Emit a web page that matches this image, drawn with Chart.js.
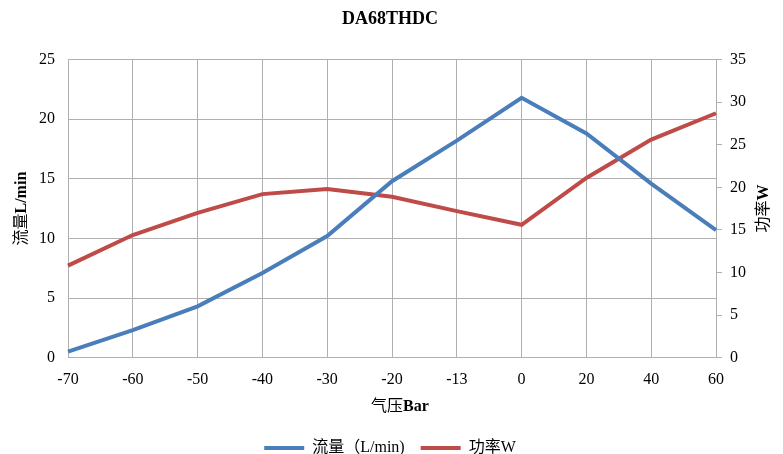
<!DOCTYPE html>
<html>
<head>
<meta charset="utf-8">
<script src="https://cdn.jsdelivr.net/npm/chart.js@4.4.0/dist/chart.umd.min.js"></script>
<style>
  body { margin: 0; background: #fff; }
  #box { width: 783px; height: 454px; }
</style>
</head>
<body>
<div id="box"><canvas id="myChart"></canvas></div>
<script>
const labels = ['-70', '-60', '-50', '-40', '-30', '-20', '-13', '0', '20', '40', '60'];
const flow = [0.5, 2.3, 4.3, 7.1, 10.2, 14.8, 18.2, 21.8, 18.8, 14.6, 10.7];
const power = [10.8, 14.4, 17.0, 19.2, 19.8, 18.9, 17.2, 15.6, 21.1, 25.6, 28.7];

const serif = '"Liberation Serif", "Times New Roman", "Noto Sans CJK SC", serif';
const gridColor = '#b0b0b0';

// draw text made of normal + bold parts, centred at x,y (optionally rotated)
function drawMixed(ctx, parts, x, y, angle) {
    ctx.save();
    ctx.translate(x, y);
    if (angle) ctx.rotate(angle);
    ctx.textBaseline = 'middle';
    ctx.textAlign = 'left';
    ctx.fillStyle = '#000';
    let total = 0;
    parts.forEach(p => {
        ctx.font = (p[1] ? 'bold ' : '') + '16px ' + serif;
        total += ctx.measureText(p[0]).width;
    });
    let cx = -total / 2;
    parts.forEach(p => {
        ctx.font = (p[1] ? 'bold ' : '') + '16px ' + serif;
        ctx.fillText(p[0], cx, 0);
        cx += ctx.measureText(p[0]).width;
    });
    ctx.restore();
}

const axisTitles = {
    id: 'axisTitles',
    afterDraw(chart) {
        const ctx = chart.ctx;
        const a = chart.chartArea;
        const midY = (a.top + a.bottom) / 2;
        drawMixed(ctx, [['流量', false], ['L/min', true]], 22, midY, -Math.PI / 2);
        drawMixed(ctx, [['功率', false], ['W', true]], 764, midY, -Math.PI / 2);
        drawMixed(ctx, [['气压', false], ['Bar', true]], (a.left + a.right) / 2 + 8, a.bottom + 49, 0);
    }
};

const ctx = document.getElementById('myChart').getContext('2d');
const myChart = new Chart(ctx, {
    type: 'line',
    data: {
        labels: labels,
        datasets: [{
            label: '流量（L/min)',
            data: flow,
            borderColor: '#4a7ebb',
            backgroundColor: '#4a7ebb',
            borderWidth: 4,
            pointRadius: 0,
            tension: 0,
            yAxisID: 'y'
        }, {
            label: '功率W',
            data: power,
            borderColor: '#be4b48',
            backgroundColor: '#be4b48',
            borderWidth: 4,
            pointRadius: 0,
            tension: 0,
            yAxisID: 'y1'
        }]
    },
    options: {
        responsive: true,
        maintainAspectRatio: false,
        animation: false,
        layout: { padding: { left: 26, right: 29, top: 0, bottom: -12 } },
        plugins: {
            title: {
                display: true,
                text: 'DA68THDC',
                color: '#000',
                font: { family: serif, size: 18, weight: 'bold' },
                padding: { top: 9, bottom: 29 }
            },
            legend: {
                position: 'bottom',
                labels: {
                    color: '#000',
                    font: { family: serif, size: 16 },
                    boxWidth: 40,
                    boxHeight: 4,
                    padding: 16,
                    generateLabels: chart => Chart.defaults.plugins.legend.labels.generateLabels(chart)
                        .map(l => Object.assign(l, { lineWidth: 0 }))
                }
            },
            tooltip: { enabled: false }
        },
        scales: {
            x: {
                grid: { color: gridColor, drawTicks: false },
                border: { color: gridColor },
                ticks: { color: '#000', font: { family: serif, size: 16 }, padding: 13, maxRotation: 0, autoSkip: false },
                title: { display: true, text: '气压Bar', color: 'rgba(0,0,0,0)', font: { family: serif, size: 16 }, padding: { top: 2, bottom: 0 } }
            },
            y: {
                position: 'left',
                min: 0,
                max: 25,
                grid: { color: gridColor, drawTicks: false },
                border: { color: gridColor },
                ticks: { stepSize: 5, color: '#000', font: { family: serif, size: 16 }, padding: 13 }
            },
            y1: {
                position: 'right',
                min: 0,
                max: 35,
                grid: { drawOnChartArea: false, color: gridColor, tickLength: 6 },
                border: { color: gridColor },
                ticks: { stepSize: 5, color: '#000', font: { family: serif, size: 16 }, padding: 8 }
            }
        }
    },
    plugins: [axisTitles]
});
</script>
</body>
</html>
